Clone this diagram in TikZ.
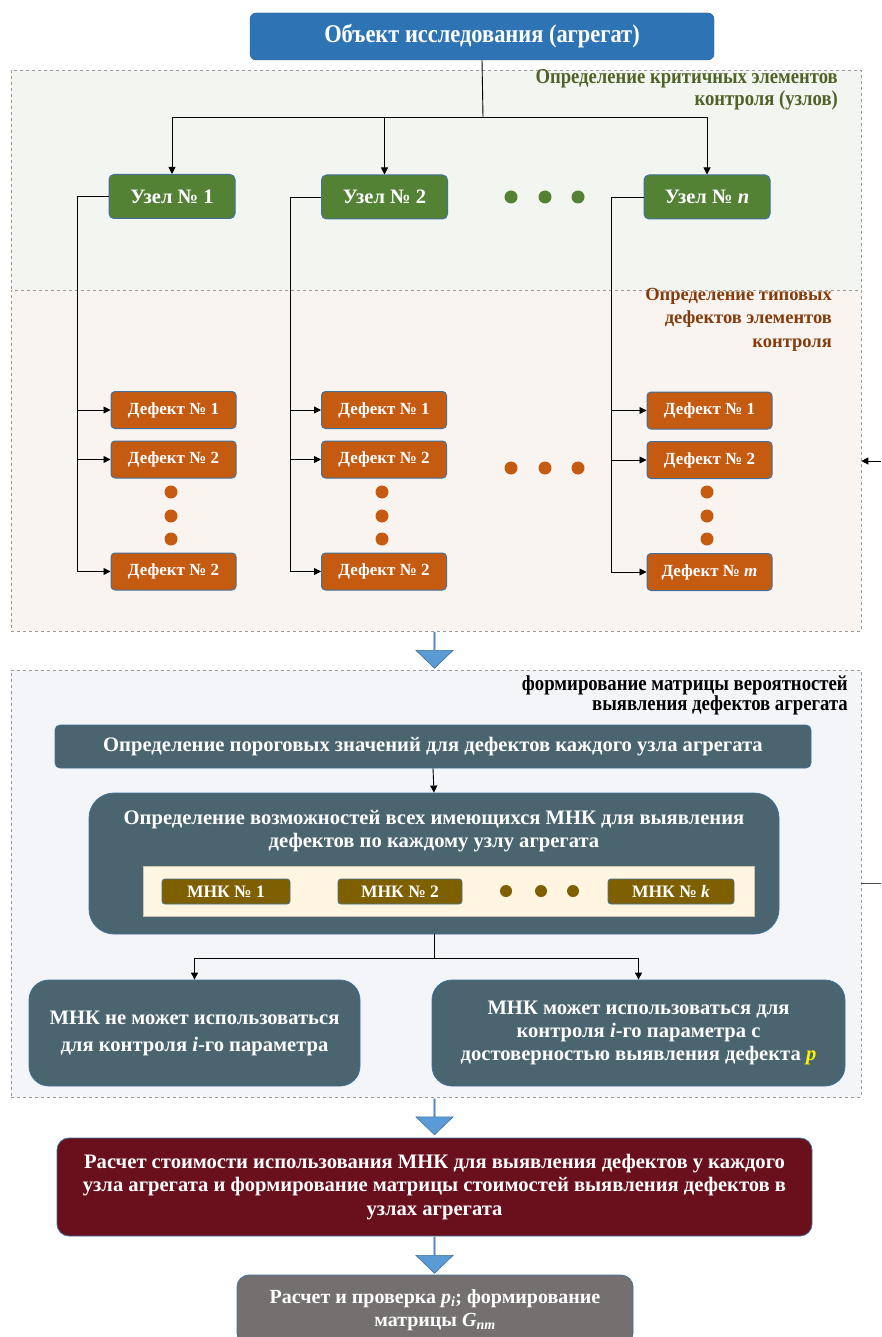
\documentclass[tikz,border=0pt]{standalone}
\usepackage{fontspec}
\setmainfont{Liberation Serif}
\newfontfamily\condfont[FakeStretch=0.88]{Liberation Serif}
\usetikzlibrary{arrows.meta,shapes.arrows}
\definecolor{topblue}{HTML}{2E74B5}
\definecolor{bord}{HTML}{41719C}
\definecolor{uzgreen}{HTML}{548235}
\definecolor{deforange}{HTML}{C55A11}
\definecolor{mnkbrown}{HTML}{7F6000}
\definecolor{slate}{HTML}{4A6470}
\definecolor{darkred}{HTML}{6A0F1C}
\definecolor{grbox}{HTML}{757070}
\definecolor{bg1}{HTML}{F3F6F0}
\definecolor{bg2}{HTML}{FAF4F1}
\definecolor{bg3}{HTML}{F4F5F9}
\definecolor{lbgreen}{HTML}{4F6228}
\definecolor{lbbrown}{HTML}{843C0C}
\definecolor{cream}{HTML}{FFF5E0}
\definecolor{barrow}{HTML}{5B9BD5}
\tikzset{
  box/.style={rectangle, inner sep=0pt, text=white, font=\bfseries, align=center},
  topbox/.style={box, fill=topblue, draw=topblue!80!black, rounded corners=6pt},
  uzel/.style={box, fill=uzgreen, draw=bord, line width=1pt, rounded corners=5pt, minimum width=126pt, minimum height=44pt, font=\fontsize{20.5}{24}\selectfont\bfseries},
  defect/.style={box, fill=deforange, draw=bord, line width=1pt, rounded corners=4pt, minimum width=125pt, minimum height=37pt, font=\fontsize{17}{20}\selectfont\bfseries},
  mnk/.style={box, fill=mnkbrown, draw=bord, line width=0.8pt, rounded corners=3pt, minimum height=25pt, font=\fontsize{17.5}{20}\selectfont\bfseries},
  slatebox/.style={box, fill=slate, draw=bord, line width=0.8pt, font=\fontsize{20.6}{23}\selectfont\bfseries},
  region/.style={rectangle, inner sep=0pt, draw=gray!80, dashed, line width=0.6pt},
  rlabel/.style={inner sep=0pt, align=right, anchor=north east},
  conn/.style={draw=black, line width=0.9pt},
  arr/.style={conn, -{Triangle[length=7pt,width=7pt]}},
  dotg/.style={circle, inner sep=0pt, minimum size=13pt, fill=uzgreen},
  doto/.style={circle, inner sep=0pt, minimum size=13pt, fill=deforange},
  dotm/.style={circle, inner sep=0pt, minimum size=12pt, fill=mnkbrown},
  blockarrow/.style={single arrow, shape border rotate=270, fill=barrow, draw=bord, line width=0.6pt, inner sep=0pt, minimum width=37pt, minimum height=36pt, single arrow head extend=9pt, single arrow tip angle=92},
}
\begin{document}
\begin{tikzpicture}[x=1pt,y=-1pt]
\useasboundingbox[fill=white] (0,0) rectangle (881,1337);
% regions
\node[region, fill=bg1, minimum width=850pt, minimum height=220pt] (r1) at (436,180) {};
\node[region, fill=bg2, minimum width=850pt, minimum height=341pt] (r2) at (436,460.5) {};
\node[region, fill=bg3, minimum width=850pt, minimum height=427pt] (r3) at (436,883.5) {};
\node[rlabel, text=lbgreen, font=\condfont\fontsize{21.2}{22}\selectfont\bfseries] (l1) at (838,69) {Определение критичных элементов\\контроля (узлов)};
\node[rlabel, text=lbbrown, font=\fontsize{18.5}{23.5}\selectfont\bfseries] (l2) at (832,288) {Определение типовых\\дефектов элементов\\контроля};
\node[rlabel, text=black, font=\condfont\fontsize{21.3}{20}\selectfont\bfseries] (l3) at (848,675.5) {формирование матрицы вероятностей\\выявления дефектов агрегата};
% top
\node[topbox, minimum width=464pt, minimum height=47pt, font=\condfont\fontsize{25.5}{27}\selectfont\bfseries] (top) at (482,36.5) {Объект исследования (агрегат)};
% nodes
\node[uzel] (u1) at (172,196.5) {Узел № 1};
\node[uzel] (u2) at (384.5,197) {Узел № 2};
\node[uzel] (u3) at (707,197) {Узел № \textit{n}};
\node[dotg] (g1) at (511,197) {};
\node[dotg] (g2) at (545,197) {};
\node[dotg] (g3) at (578,197) {};
\coordinate (j1) at (483,117);
\draw[conn] (top.south) -- (j1);
\draw[arr] (j1) -| (u1.north);
\draw[arr] (j1) -| (u2.north);
\draw[arr] (j1) -| (u3.north);
% defects
\node[defect] (d11) at (173.5,410) {Дефект № 1};
\node[defect] (d12) at (173.5,459.5) {Дефект № 2};
\node[defect] (d13) at (173.5,571.5) {Дефект № 2};
\node[defect] (d21) at (384,410) {Дефект № 1};
\node[defect] (d22) at (384,459.5) {Дефект № 2};
\node[defect] (d23) at (384,571.5) {Дефект № 2};
\node[defect] (d31) at (709.5,410.5) {Дефект № 1};
\node[defect] (d32) at (709.5,460) {Дефект № 2};
\node[defect] (d33) at (709.5,572) {Дефект № \textit{m}};
\foreach \x/\n in {171/a,382/b,707/c}{
  \node[doto] (o\n1) at (\x,492) {};
  \node[doto] (o\n2) at (\x,516) {};
  \node[doto] (o\n3) at (\x,539) {};
}
\node[doto] (m1) at (511,468) {};
\node[doto] (m2) at (545,468) {};
\node[doto] (m3) at (578,468) {};
\coordinate (c1) at (77,196.5);
\coordinate (c2) at (290,197);
\coordinate (c3) at (611,197);
\draw[conn] (u1.west) -- (c1) -- (c1 |- d13.west);
\draw[conn] (u2.west) -- (c2) -- (c2 |- d23.west);
\draw[conn] (u3.west) -- (c3) -- (c3 |- d33.west);
\foreach \c/\d in {c1/d11,c1/d12,c1/d13,c2/d21,c2/d22,c2/d23,c3/d31,c3/d32,c3/d33}{
  \draw[arr] (\c |- \d.west) -- (\d.west);
}
% right-edge fragments
\coordinate (e1) at (881,461);
\draw[arr] (e1) -- (e1 -| r2.east);
\coordinate (e2) at (881,883);
\draw[conn, draw=black!70] (e2 -| r3.east) -- (e2);
% block arrow 1
\node[blockarrow] (a1) at (434.5,650) {};
% region 3
\node[slatebox, rounded corners=5pt, minimum width=756pt, minimum height=43pt] (s1) at (433,746.5) {Определение пороговых значений для дефектов каждого узла агрегата};
\node[slatebox, rounded corners=25pt, minimum width=690pt, minimum height=141pt] (s2) at (434,863.5) {};
\node[box, font=\fontsize{20.6}{22.5}\selectfont\bfseries] (s2t) at (434,831) {Определение возможностей всех имеющихся МНК для выявления\\дефектов по каждому узлу агрегата};
\node[rectangle, fill=cream, draw=cream!80!black, line width=0.4pt, minimum width=611pt, minimum height=50pt, inner sep=0pt] (cr) at (448.5,891) {};
\node[mnk, minimum width=128pt] (k1) at (226,891.5) {МНК № 1};
\node[mnk, minimum width=124pt] (k2) at (400,891.5) {МНК № 2};
\node[mnk, minimum width=126pt] (k3) at (671,891.5) {МНК № \textit{k}};
\node[dotm] (q1) at (506,891) {};
\node[dotm] (q2) at (541,891) {};
\node[dotm] (q3) at (573,891) {};
\draw[arr] (s1.south) -- (s2.north);
\coordinate (j2) at (434,958);
\node[slatebox, rounded corners=20pt, minimum width=331pt, minimum height=106pt, font=\fontsize{20.6}{27}\selectfont\bfseries] (b1) at (194.5,1033) {МНК не может использоваться\\для контроля \textit{i}-го параметра};
\node[slatebox, rounded corners=20pt, minimum width=413pt, minimum height=106pt] (b2) at (638.5,1033) {МНК может использоваться для\\контроля \textit{i}-го параметра с\\достоверностью выявления дефекта \textcolor{yellow}{\textit{p}}};
\draw[conn] (s2.south) -- (j2);
\draw[arr] (j2) -| (b1.north);
\draw[arr] (j2) -| (b2.north);
% block arrow 2
\node[blockarrow] (a2) at (434.5,1116.5) {};
\node[box, fill=darkred, draw=bord, line width=0.8pt, rounded corners=12pt, minimum width=755pt, minimum height=98pt, font=\fontsize{20.6}{23.5}\selectfont\bfseries] (red) at (434.5,1187) {Расчет стоимости использования МНК для выявления дефектов у каждого\\узла агрегата и формирование матрицы стоимостей выявления дефектов в\\узлах агрегата};
\node[blockarrow] (a3) at (434.5,1255) {};
\node[box, fill=grbox, draw=bord, line width=0.8pt, rounded corners=12pt, minimum width=396pt, minimum height=70pt] (gb) at (435,1310) {};
\node[box, font=\fontsize{20}{23}\selectfont\bfseries] (gbt) at (435,1310.5) {Расчет и проверка \textit{p\textsubscript{i}}; формирование\\матрицы \textit{G\textsubscript{nm}}};
\end{tikzpicture}
\end{document}
